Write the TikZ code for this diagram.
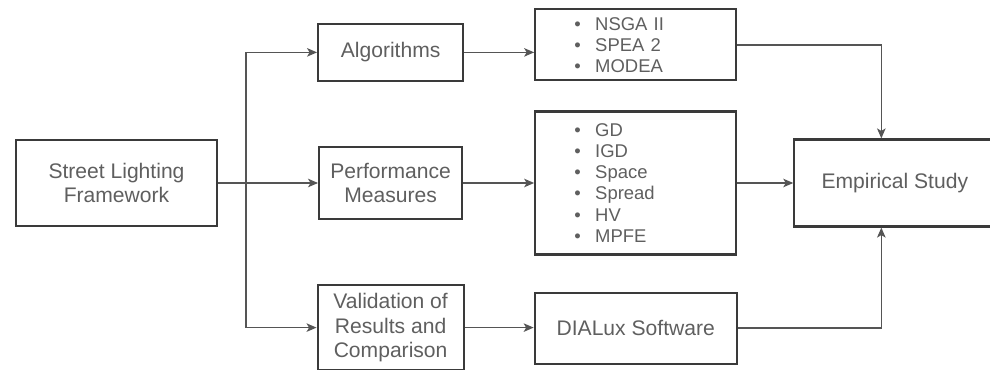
\documentclass[tikz,border=0pt]{standalone}
\usepackage{fontspec}
\setmainfont{Liberation Sans}
\usetikzlibrary{positioning,arrows.meta}
\definecolor{txtgray}{HTML}{5F5F5F}
\definecolor{boxline}{HTML}{3A3A3A}
\definecolor{wire}{HTML}{555555}
\newcommand{\itm}[1]{\makebox[12mm][r]{\textbullet\hspace{2.9mm}}#1}

\begin{document}
\begin{tikzpicture}[
  font=\fontsize{12}{14}\selectfont,
  blk/.style={draw=boxline, line width=1.2pt, align=center, inner sep=2pt, text=txtgray},
  lst/.style={blk, align=left, text width=4.02cm, inner sep=0pt, font=\fontsize{10.5}{12}\selectfont},
  arr/.style={-{Stealth[length=2mm, width=1.7mm, inset=0.5mm]}, draw=wire, line width=0.8pt}
]
\useasboundingbox (0,0) rectangle (19.8,-7.4);
\node[blk, minimum width=4.02cm, minimum height=1.72cm] (slf) at (2.33,-3.66) {Street Lighting\\ Framework};
\node[blk, minimum width=2.86cm, minimum height=1.44cm, right=20mm of slf] (perf) {Performance\\ Measures};
\node[blk, minimum width=2.9cm, minimum height=1.14cm, above=12.8mm of perf] (alg) {Algorithms};
\node[blk, minimum width=2.92cm, minimum height=1.7cm, below=12.8mm of perf] (val) {Validation of\\ Results and\\ Comparison};
\node[lst, minimum height=2.86cm, right=14.2mm of perf] (gd)
  {\itm{GD}\\ \itm{IGD}\\ \itm{Space}\\ \itm{Spread}\\ \itm{HV}\\ \itm{MPFE}};
\node[lst, minimum height=1.42cm, above=5.8mm of gd] (nsga)
  {\itm{NSGA II}\\ \itm{SPEA 2}\\ \itm{MODEA}};
\node[blk, minimum width=4.04cm, minimum height=1.42cm, below=7.2mm of gd] (dia) {DIALux Software};
\node[blk, minimum width=4.02cm, minimum height=1.74cm, right=11.2mm of gd] (emp) {Empirical Study};
% fan out from the framework
\coordinate[right=5.6mm of slf.east] (fork);
\draw[arr] (slf.east) -- (perf.west);
\draw[arr] (fork) |- (alg.west);
\draw[arr] (fork) |- (val.west);
% middle column
\draw[arr] (alg.east) -- (alg.east -| nsga.west);
\draw[arr] (perf.east) -- (gd.west);
\draw[arr] (val.east) -- (val.east -| dia.west);
% into the study
\draw[arr] (nsga.east) -| ([xshift=-2.7mm]emp.north);
\draw[arr] (gd.east) -- (emp.west);
\draw[arr] (dia.east) -| ([xshift=-2.7mm]emp.south);
\end{tikzpicture}
\end{document}
